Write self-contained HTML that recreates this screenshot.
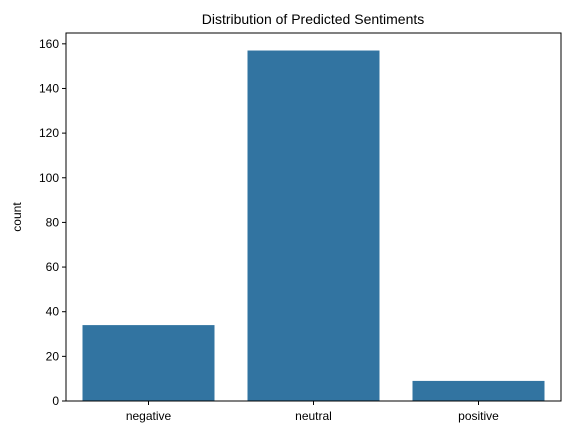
<!DOCTYPE html>
<html><head><meta charset="utf-8"><style>
body{margin:0;background:#fff;}
svg{display:block;font-family:"Liberation Sans","DejaVu Sans",sans-serif;}
</style></head><body>
<svg id="chart" width="571" height="435">
<text x="313" y="24" text-anchor="middle" font-size="14" fill="#000">Distribution of Predicted Sentiments</text>
<text x="21" y="217" text-anchor="middle" font-size="12" transform="rotate(-90 21 217)">count</text>
<g id="bars"></g><g id="yticks"></g><g id="xticks"></g>
<rect x="66" y="33" width="495" height="368" fill="none" stroke="#000" stroke-width="1"/>
</svg>
<script>
const categories = ["negative","neutral","positive"];
const counts = [34,157,9];
const yTicks = [0,20,40,60,80,100,120,140,160];
const L=66,R=561,T=33,B=401,yMax=164.85;
function yScale(v){return B-(v/yMax)*(B-T);}
function xScale(i){return L+(i+0.5)*(R-L)/categories.length;}
const ns="http://www.w3.org/2000/svg";
const bw=0.8*(R-L)/categories.length;
const bars=document.getElementById('bars'),yt=document.getElementById('yticks'),xt=document.getElementById('xticks');
categories.forEach((c,i)=>{
  const r=document.createElementNS(ns,'rect');
  r.setAttribute('x',xScale(i)-bw/2);r.setAttribute('width',bw);
  r.setAttribute('y',yScale(counts[i]));r.setAttribute('height',B-yScale(counts[i]));
  r.setAttribute('fill','#3274a1');
  
  
  bars.appendChild(r);
  const l=document.createElementNS(ns,'line');
  l.setAttribute('x1',xScale(i));l.setAttribute('x2',xScale(i));l.setAttribute('y1',B);l.setAttribute('y2',B+4);l.setAttribute('stroke','#000');
  xt.appendChild(l);
  const t=document.createElementNS(ns,'text');
  t.setAttribute('x',xScale(i));t.setAttribute('y',B+19);t.setAttribute('text-anchor','middle');t.setAttribute('font-size','12');
  t.textContent=c;
  
  
  xt.appendChild(t);
});
yTicks.forEach(v=>{
  const y=yScale(v);
  const l=document.createElementNS(ns,'line');
  l.setAttribute('x1',L-4);l.setAttribute('x2',L);l.setAttribute('y1',y);l.setAttribute('y2',y);l.setAttribute('stroke','#000');
  yt.appendChild(l);
  const t=document.createElementNS(ns,'text');
  t.setAttribute('x',L-7);t.setAttribute('y',y+4);t.setAttribute('text-anchor','end');t.setAttribute('font-size','12');
  t.textContent=v;
  
  
  yt.appendChild(t);
});
</script>
</body></html>
